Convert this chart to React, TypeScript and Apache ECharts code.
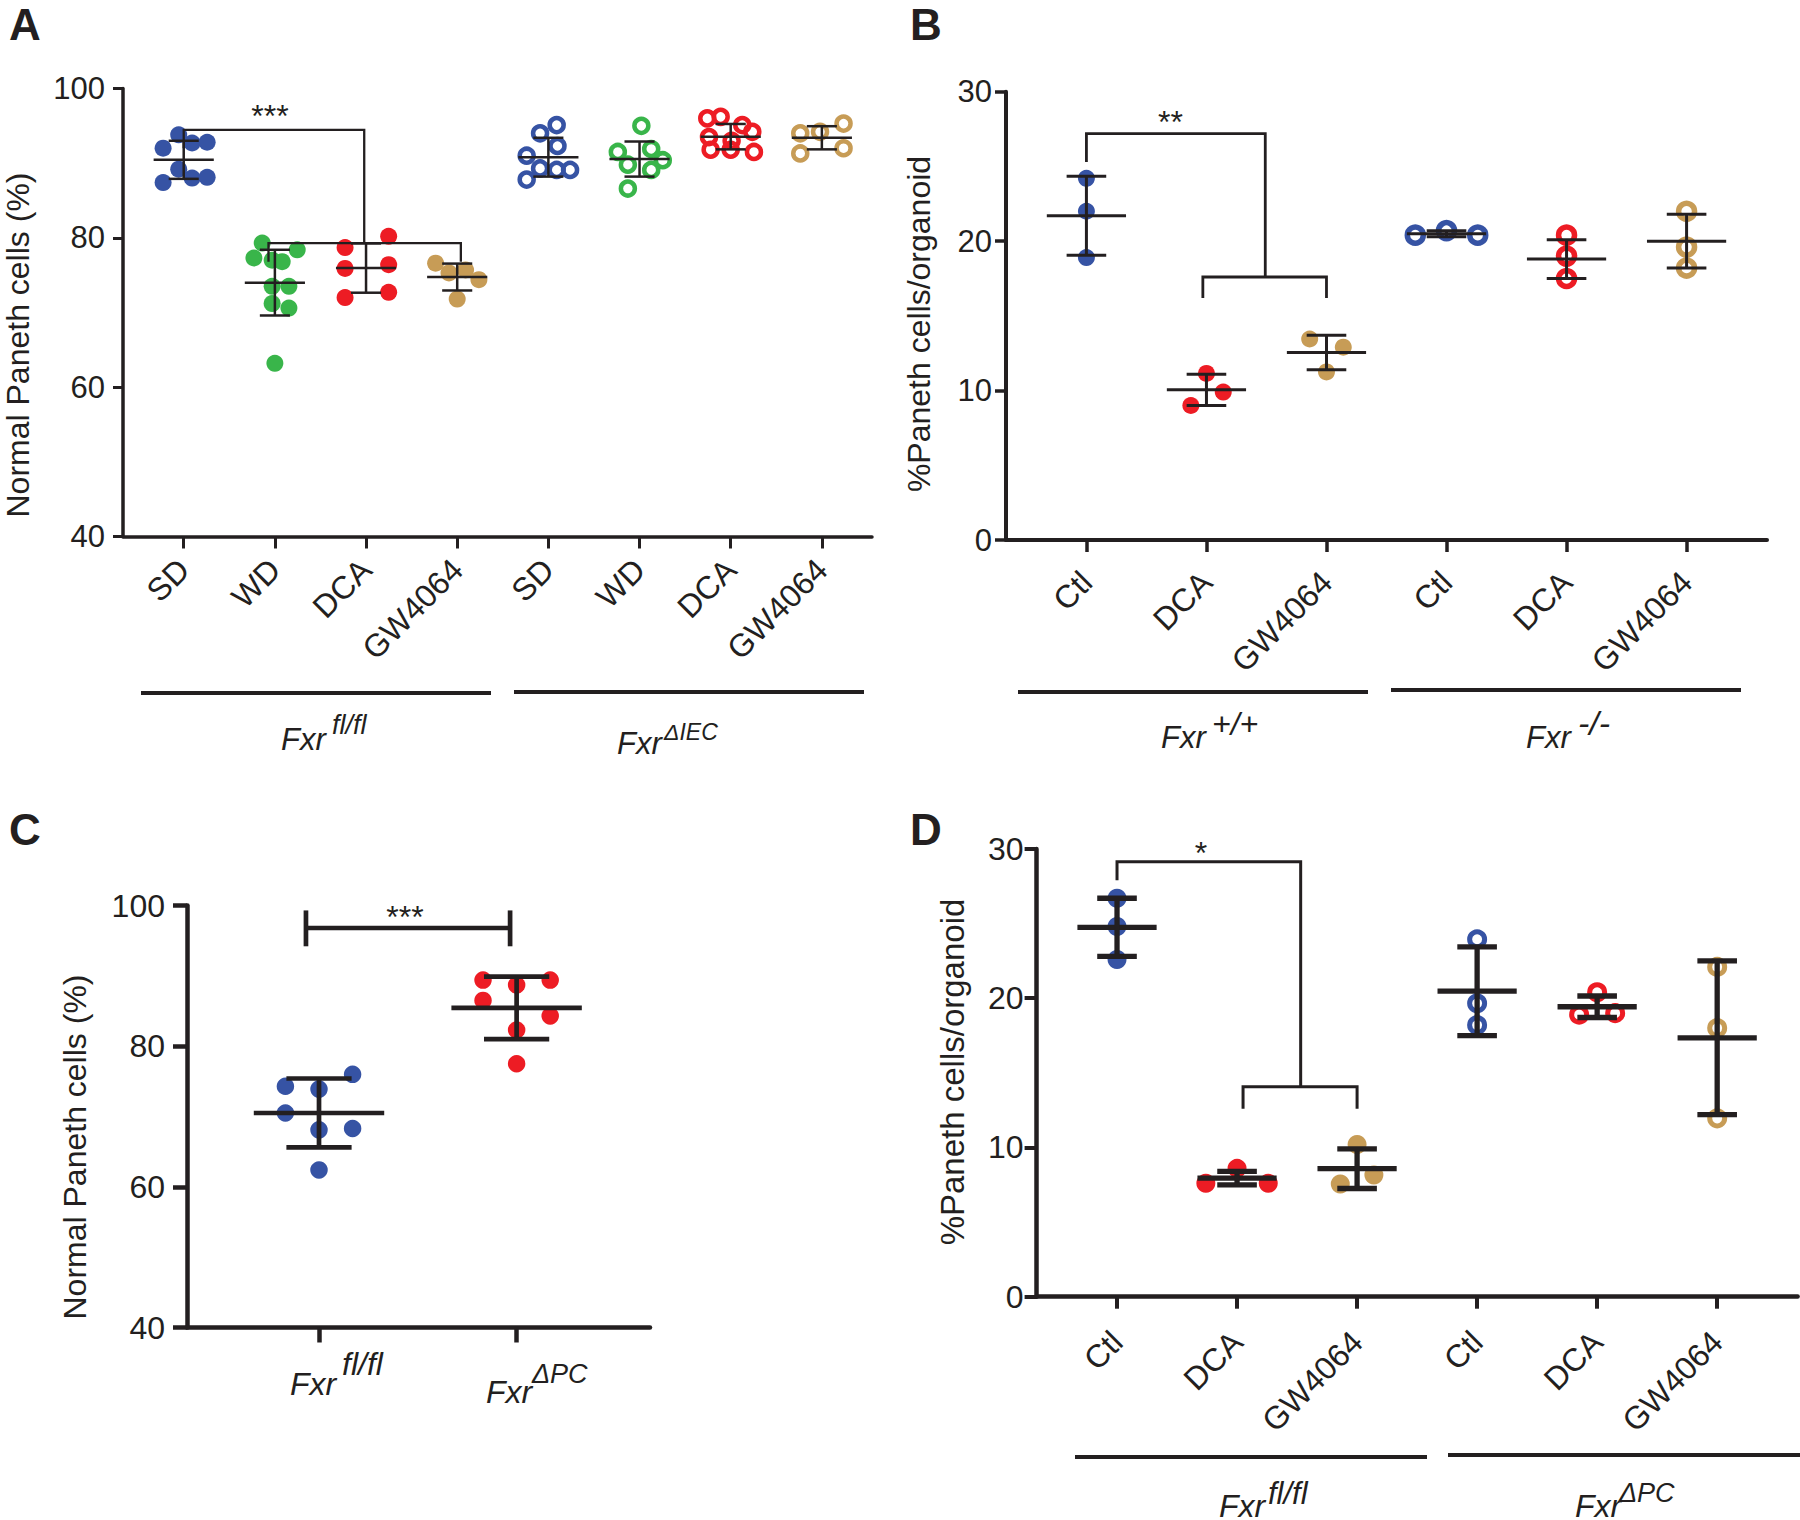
import React, { useEffect, useRef } from 'react';
import * as echarts from 'echarts';

const FONT = '"Liberation Sans", Arial, Helvetica, sans-serif';
const INK = '#231F20';
const BLUE = '#3653A4';
const GREEN = '#39B54A';
const RED = '#ED1C24';
const TAN = '#C79C56';

// ---------- Panel A ----------
const A_CATEGORIES = ['SD', 'WD', 'DCA', 'GW4064', 'SD', 'WD', 'DCA', 'GW4064'];
const A_Y_TICKS = [40, 60, 80, 100];
const A_POINTS = [
  [93.8, 92.7, 92.8, 92.0, 89.2, 88.0, 88.1, 87.4],
  [79.3, 78.4, 77.3, 77.0, 76.8, 73.5, 73.5, 71.2, 70.6, 63.2],
  [80.2, 78.7, 75.9, 76.4, 72.0, 72.7],
  [76.6, 75.3, 75.7, 74.4, 71.8],
  [95.1, 94.0, 92.3, 91.0, 89.3, 89.1, 89.1, 87.8],
  [95.0, 91.5, 91.9, 90.4, 89.8, 89.1, 86.6],
  [96.2, 96.0, 95.1, 94.2, 93.5, 93.0, 91.8, 91.8, 91.5],
  [94.0, 94.2, 95.3, 91.3, 92.0],
];
const A_JITTER = [
  [-0.055, 0.092, 0.257, -0.226, -0.055, 0.092, 0.257, -0.226],
  [-0.139, 0.245, -0.23, -0.03, 0.08, -0.03, 0.154, -0.03, 0.154, 0],
  [0.248, -0.23, -0.23, 0.248, -0.23, 0.248],
  [-0.237, -0.09, 0.092, 0.238, 0],
  [0.091, -0.091, 0.1, -0.238, -0.091, 0.091, 0.238, -0.238],
  [0.02, -0.238, 0.128, 0.255, -0.128, 0.128, -0.128],
  [-0.11, -0.257, 0.127, 0.237, -0.238, 0.01, -0.22, 0, 0.255],
  [-0.237, -0.02, 0.238, -0.237, 0.238],
];
const A_MEAN = [90.45, 74.0, 75.95, 74.75, 90.8, 90.55, 93.55, 93.4];
const A_ERR = [2.55, 4.4, 3.3, 1.8, 2.6, 2.35, 1.7, 1.55];
const A_COLORS = [BLUE, GREEN, RED, TAN, BLUE, GREEN, RED, TAN];
const A_HOLLOW = [false, false, false, false, true, true, true, true];
const A_BRACKETS = [
  [[0, 92.0], [0, 94.45], [1.98, 94.45], [1.98, 79.3]],
  [[0.93, 76.8], [0.93, 79.3], [3.04, 79.3], [3.04, 76.8]],
];
const A_SIG = [{ text: '***', x: 0.946, y: 96.3 }];

// ---------- Panel B ----------
const B_CATEGORIES = ['Ctl', 'DCA', 'GW4064', 'Ctl', 'DCA', 'GW4064'];
const B_Y_TICKS = [0, 10, 20, 30];
const B_POINTS = [
  [24.2, 22.0, 18.9],
  [11.15, 9.9, 9.0],
  [13.45, 12.9, 11.25],
  [20.4, 20.7, 20.4],
  [20.4, 19.0, 17.5],
  [22.0, 19.6, 18.2],
];
const B_JITTER = [
  [0, 0, 0],
  [0, 0.14, -0.13],
  [-0.14, 0.14, 0],
  [-0.26, 0, 0.26],
  [0, 0, 0],
  [0, 0, 0],
];
const B_MEAN = [21.7, 10.05, 12.55, 20.5, 18.8, 20.0];
const B_ERR = [2.65, 1.05, 1.15, 0.2, 1.3, 1.8];
const B_COLORS = [BLUE, RED, TAN, BLUE, RED, TAN];
const B_HOLLOW = [false, false, false, true, true, true];
const B_BRACKETS = [
  [[0, 25.3], [0, 27.2], [1.49, 27.2], [1.49, 17.6]],
  [[0.97, 16.2], [0.97, 17.6], [2.0, 17.6], [2.0, 16.2]],
];
const B_SIG = [{ text: '**', x: 0.7, y: 28.0 }];

// ---------- Panel C ----------
const C_Y_TICKS = [40, 60, 80, 100];
const C_POINTS = [
  [76.0, 74.3, 73.9, 70.5, 68.1, 68.3, 62.4],
  [89.4, 89.4, 88.7, 86.5, 84.3, 82.3, 77.5],
];
const C_JITTER = [
  [0.17, -0.17, 0, -0.17, 0, 0.17, 0],
  [-0.17, 0.17, 0, -0.17, 0.17, 0, 0],
];
const C_MEAN = [70.5, 85.45];
const C_ERR = [4.9, 4.45];
const C_COLORS = [BLUE, RED];
const C_HOLLOW = [false, false];
const C_BRACKETS = [
  [[-0.066, 94.2], [-0.066, 99.3]],
  [[-0.066, 96.8], [0.967, 96.8]],
  [[0.967, 94.2], [0.967, 99.3]],
];
const C_SIG = [{ text: '***', x: 0.435, y: 98.3 }];

// ---------- Panel D ----------
const D_CATEGORIES = ['Ctl', 'DCA', 'GW4064', 'Ctl', 'DCA', 'GW4064'];
const D_Y_TICKS = [0, 10, 20, 30];
const D_POINTS = [
  [26.7, 24.8, 22.6],
  [7.6, 8.6, 7.6],
  [10.2, 8.15, 7.55],
  [23.95, 19.66, 18.2],
  [20.4, 18.9, 19.0],
  [22.1, 18.0, 11.95],
];
const D_JITTER = [
  [0, 0, 0],
  [-0.26, 0, 0.26],
  [0, 0.14, -0.14],
  [0, 0, 0],
  [0, -0.15, 0.15],
  [0, 0, 0],
];
const D_MEAN = [24.75, 7.95, 8.58, 20.47, 19.43, 17.35];
const D_ERR = [1.95, 0.45, 1.33, 2.97, 0.72, 5.15];
const D_COLORS = [BLUE, RED, TAN, BLUE, RED, TAN];
const D_HOLLOW = [false, false, false, true, true, true];
const D_BRACKETS = [
  [[0, 27.9], [0, 29.15], [1.53, 29.15], [1.53, 14.07]],
  [[1.05, 12.6], [1.05, 14.07], [2.0, 14.07], [2.0, 12.6]],
];
const D_SIG = [{ text: '*', x: 0.7, y: 29.7 }];

type PanelStyle = {
  dot: number;
  ring: number;
  ringWidth: number;
  barWidth: number;
  bracketWidth: number;
  sigSize: number;
};

function panelSeries(
  gi: number,
  points: number[][],
  jitter: number[][],
  mean: number[],
  err: number[],
  colors: string[],
  hollow: boolean[],
  brackets: number[][][],
  sig: { text: string; x: number; y: number }[],
  st: PanelStyle
) {
  const out: any[] = [];
  points.forEach((vals, g) => {
    out.push({
      type: 'scatter',
      xAxisIndex: gi,
      yAxisIndex: gi,
      z: 2,
      silent: true,
      symbol: 'circle',
      symbolSize: hollow[g] ? st.ring : st.dot,
      itemStyle: hollow[g]
        ? { color: 'rgba(255,255,255,0)', borderColor: colors[g], borderWidth: st.ringWidth, opacity: 1 }
        : { color: colors[g], opacity: 1 },
      data: vals.map((v, k) => [g + jitter[g][k], v]),
    });
  });
  out.push({
    type: 'custom',
    xAxisIndex: gi,
    yAxisIndex: gi,
    z: 5,
    silent: true,
    data: mean.map((m, i) => [i, m, err[i]]),
    encode: { x: 0, y: 1 },
    renderItem: (_p: any, api: any) => {
      const x = api.value(0);
      const m = api.value(1);
      const e = api.value(2);
      const c = api.coord([x, m]);
      const t = api.coord([x, m + e]);
      const b = api.coord([x, m - e]);
      const u = api.size([1, 0])[0];
      const style = { stroke: INK, lineWidth: st.barWidth, fill: null };
      const ln = (x1: number, y1: number, x2: number, y2: number) => ({
        type: 'line',
        shape: { x1, y1, x2, y2 },
        style,
      });
      return {
        type: 'group',
        children: [
          ln(c[0] - 0.33 * u, c[1], c[0] + 0.33 * u, c[1]),
          ln(c[0], t[1], c[0], b[1]),
          ln(c[0] - 0.165 * u, t[1], c[0] + 0.165 * u, t[1]),
          ln(c[0] - 0.165 * u, b[1], c[0] + 0.165 * u, b[1]),
        ],
      };
    },
  });
  out.push({
    type: 'custom',
    xAxisIndex: gi,
    yAxisIndex: gi,
    z: 6,
    silent: true,
    data: brackets.map((br, i) => [br[0][0], br[0][1], i]),
    encode: { x: 0, y: 1 },
    renderItem: (_p: any, api: any) => {
      const br = brackets[api.value(2)];
      const pts = br.map((p) => api.coord(p));
      return {
        type: 'polyline',
        shape: { points: pts },
        style: { stroke: INK, lineWidth: st.bracketWidth, fill: null, lineJoin: 'miter' },
      };
    },
  });
  out.push({
    type: 'custom',
    xAxisIndex: gi,
    yAxisIndex: gi,
    z: 6,
    silent: true,
    data: sig.map((s, i) => [s.x, s.y, i]),
    encode: { x: 0, y: 1 },
    renderItem: (_p: any, api: any) => {
      const s = sig[api.value(2)];
      const c = api.coord([s.x, s.y]);
      return {
        type: 'text',
        x: c[0],
        y: c[1],
        style: {
          text: s.text,
          fill: INK,
          fontSize: st.sigSize,
          fontFamily: FONT,
          align: 'center',
          verticalAlign: 'middle',
          textAlign: 'center',
          textVerticalAlign: 'middle',
        },
      };
    },
  });
  return out;
}

function xAxisCfg(
  gi: number,
  n: number,
  min: number,
  max: number,
  cats: string[] | null,
  lw: number,
  tickLen: number,
  tickW: number,
  margin: number
) {
  const idx = Array.from({ length: n }, (_, i) => i);
  return {
    type: 'value',
    gridIndex: gi,
    min,
    max,
    axisLine: { show: true, onZero: false, lineStyle: { color: INK, width: lw } },
    axisTick: { show: true, customValues: idx, length: tickLen, lineStyle: { color: INK, width: tickW } },
    axisLabel: {
      show: !!cats,
      customValues: idx,
      formatter: (v: number) => (cats ? cats[Math.round(v)] : ''),
      rotate: 45,
      fontSize: 32,
      fontFamily: FONT,
      color: INK,
      margin,
    },
    splitLine: { show: false },
  };
}

function yAxisCfg(
  gi: number,
  ticks: number[],
  lw: number,
  tickLen: number,
  tickW: number,
  fontSize: number,
  margin: number
) {
  return {
    type: 'value',
    gridIndex: gi,
    min: ticks[0],
    max: ticks[ticks.length - 1],
    interval: ticks[1] - ticks[0],
    axisLine: { show: true, onZero: false, lineStyle: { color: INK, width: lw } },
    axisTick: { show: true, length: tickLen, lineStyle: { color: INK, width: tickW } },
    axisLabel: { fontSize, fontFamily: FONT, color: INK, margin },
    splitLine: { show: false },
  };
}

function txt(
  text: string,
  x: number,
  y: number,
  fontSize: number,
  opts: { italic?: boolean; bold?: boolean; align?: string; rotation?: number } = {}
) {
  return {
    type: 'text',
    x,
    y,
    rotation: opts.rotation || 0,
    silent: true,
    style: {
      text,
      fill: INK,
      fontSize,
      fontFamily: FONT,
      fontStyle: opts.italic ? 'italic' : 'normal',
      fontWeight: opts.bold ? 'bold' : 'normal',
      align: opts.align || 'left',
      textAlign: opts.align || 'left',
      verticalAlign: 'middle',
      textVerticalAlign: 'middle',
    },
  };
}

function hline(x1: number, x2: number, y: number, w: number) {
  return {
    type: 'line',
    silent: true,
    shape: { x1, y1: y, x2, y2: y },
    style: { stroke: INK, lineWidth: w },
  };
}

export default function App() {
  const ref = useRef<HTMLDivElement>(null);
  useEffect(() => {
    if (!ref.current) return;
    const chart = echarts.init(ref.current, undefined, { renderer: 'svg' });
    const option: any = {
      animation: false,
      backgroundColor: '#ffffff',
      grid: [
        { left: 123, top: 88.5, width: 749, height: 448 },
        { left: 1006, top: 91.7, width: 761, height: 448.3 },
        { left: 187, top: 905.5, width: 463, height: 422 },
        { left: 1036.6, top: 849, width: 761, height: 447.7 },
      ],
      xAxis: [
        xAxisCfg(0, 8, -0.666, 7.55, A_CATEGORIES, 3.5, 12, 3, 28),
        xAxisCfg(1, 6, -0.67, 5.67, B_CATEGORIES, 4, 12, 3.5, 37),
        xAxisCfg(2, 2, -0.668, 1.675, null, 4.5, 15, 4.5, 20),
        xAxisCfg(3, 6, -0.67, 5.67, D_CATEGORIES, 4.5, 12, 4, 40),
      ],
      yAxis: [
        yAxisCfg(0, A_Y_TICKS, 3.5, 10, 3, 31, 18),
        yAxisCfg(1, B_Y_TICKS, 4, 11, 3.5, 31, 14),
        yAxisCfg(2, C_Y_TICKS, 4.5, 14, 4.5, 32, 22),
        yAxisCfg(3, D_Y_TICKS, 4.5, 12, 4, 32, 13),
      ],
      series: [
        ...panelSeries(0, A_POINTS, A_JITTER, A_MEAN, A_ERR, A_COLORS, A_HOLLOW, A_BRACKETS, A_SIG, {
          dot: 17, ring: 14, ringWidth: 4.5, barWidth: 2.5, bracketWidth: 2.3, sigSize: 32,
        }),
        ...panelSeries(1, B_POINTS, B_JITTER, B_MEAN, B_ERR, B_COLORS, B_HOLLOW, B_BRACKETS, B_SIG, {
          dot: 17, ring: 16, ringWidth: 5.5, barWidth: 3, bracketWidth: 2.8, sigSize: 32,
        }),
        ...panelSeries(2, C_POINTS, C_JITTER, C_MEAN, C_ERR, C_COLORS, C_HOLLOW, C_BRACKETS, C_SIG, {
          dot: 17.5, ring: 15, ringWidth: 5, barWidth: 4.7, bracketWidth: 4.7, sigSize: 32,
        }),
        ...panelSeries(3, D_POINTS, D_JITTER, D_MEAN, D_ERR, D_COLORS, D_HOLLOW, D_BRACKETS, D_SIG, {
          dot: 19, ring: 15, ringWidth: 5, barWidth: 5.3, bracketWidth: 3, sigSize: 32,
        }),
      ],
      graphic: [
        // panel letters
        txt('A', 9, 24, 44, { bold: true }),
        txt('B', 910, 24, 44, { bold: true }),
        txt('C', 9, 829, 44, { bold: true }),
        txt('D', 910, 829, 44, { bold: true }),
        // y-axis titles
        txt('Normal Paneth cells (%)', 18, 345, 32, { align: 'center', rotation: Math.PI / 2 }),
        txt('%Paneth cells/organoid', 919, 324, 32, { align: 'center', rotation: Math.PI / 2 }),
        txt('Normal Paneth cells (%)', 75, 1147, 32, { align: 'center', rotation: Math.PI / 2 }),
        txt('%Paneth cells/organoid', 952, 1072, 33, { align: 'center', rotation: Math.PI / 2 }),
        // group underlines
        hline(141, 491, 693, 4),
        hline(514, 864, 692, 4),
        hline(1018, 1368, 692, 4),
        hline(1391, 1741, 690, 4),
        hline(1075, 1427, 1457, 4),
        hline(1448, 1800, 1455, 4),
        // group labels (genotypes)
        txt('Fxr', 281, 739, 31, { italic: true }),
        txt('fl/fl', 332, 725, 27, { italic: true }),
        txt('Fxr', 617, 743, 31, { italic: true }),
        txt('ΔIEC', 664, 732, 23, { italic: true }),
        txt('Fxr', 1161, 737, 31, { italic: true }),
        txt('+/+', 1212, 724, 32, { italic: true }),
        txt('Fxr', 1526, 737, 31, { italic: true }),
        txt('-/-', 1578, 723, 34, { italic: true }),
        txt('Fxr', 290, 1384, 32, { italic: true }),
        txt('fl/fl', 342, 1364, 32, { italic: true }),
        txt('Fxr', 486, 1392, 32, { italic: true }),
        txt('ΔPC', 532, 1374, 27, { italic: true }),
        txt('Fxr', 1219, 1506, 32, { italic: true }),
        txt('fl/fl', 1268, 1493, 31, { italic: true }),
        txt('Fxr', 1575, 1506, 32, { italic: true }),
        txt('ΔPC', 1619, 1493, 27, { italic: true }),
      ],
    };
    chart.setOption(option);
    return () => {
      chart.dispose();
    };
  }, []);
  return (
    <div
      ref={ref}
      style={{ position: 'absolute', left: 0, top: 0, width: 1800, height: 1520, background: '#fff' }}
    />
  );
}
